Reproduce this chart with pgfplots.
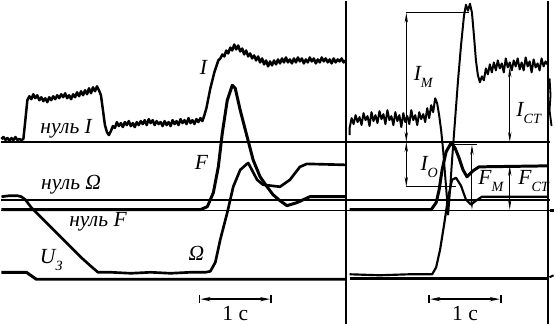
\documentclass[border=0pt]{standalone}
\usepackage{fontspec}
\setmainfont{Liberation Serif}
\usepackage{pgfplots}
\pgfplotsset{compat=1.18}
\usetikzlibrary{arrows.meta}
\newcommand{\lab}{\fontsize{13}{13}\selectfont\itshape}
\newcommand{\sub}[1]{\raisebox{-0.7ex}{\fontsize{8.5}{8.5}\selectfont\itshape #1}}
\begin{document}
\begin{tikzpicture}
\begin{axis}[width=333pt,height=195pt,scale only axis,
  xmin=0,xmax=555,ymin=0,ymax=325,y dir=reverse,hide axis,clip=false,
  every axis plot/.append style={black,no markers,line join=round}]
% null lines
\addplot[line width=1.1pt] coordinates {(0,142) (551,142)};
\addplot[line width=1.1pt] coordinates {(0,200) (551,200)};
\addplot[line width=1.0pt] coordinates {(0,211) (551,211)};
% vertical separators
\addplot[line width=0.9pt] coordinates {(346.5,0) (346.5,325)};
\addplot[line width=0.9pt] coordinates {(549.5,0) (549.5,325)};
% U_3
\addplot[line width=1.8pt] coordinates {(0,273) (25,273) (35,280) (346,280)};
\addplot[line width=1.8pt] coordinates {(350,279) (549,279)};
\addplot[line width=1.2pt] coordinates {(551,278) (555,276)};
% Omega left
\addplot[line width=1.6pt] coordinates {(0,197) (8,196) (16,196) (20,197) (24,200) (30,208) (40,218) (50,228) (60,238) (70,248) (80,258) (90,267) (97,273) (110,273) (130,274) (150,273) (170,274) (190,273) (205,273) (210,272) (215,263) (220,240) (227,213) (233,187) (240,170) (248,163) (257,180) (263,185) (280,187) (290,180) (300,167) (307,164) (346,165)};
% F left
\addplot[line width=1.8pt] coordinates {(0,210) (100,210) (200,210) (207,207) (213,193) (218,167) (222,133) (227,100) (232,85) (235,88) (240,110) (247,137) (253,160) (260,177) (267,187) (273,195) (280,201) (287,206) (297,203) (310,197) (346,197)};
% Omega right
\addplot[line width=1.3pt] coordinates {(350,275) (380,276) (410,275) (433,275) (437,268) (441,250) (445,225) (449,198) (453,180) (457,178) (462,186) (467,200) (472,205) (477,201) (483,197) (549,197)};
% F right
\addplot[line width=1.8pt] coordinates {(350,210) (400,210) (432,210) (437,203) (440,190) (443,170) (447,152) (452,143) (456,148) (460,158) (464,170) (468,177) (474,171) (480,167) (549,166)};
\addplot[line width=1.8pt] coordinates {(551,211) (555,211)};
% I left
\addplot[line width=1.5pt] coordinates {(0,139) (2,137) (4,140) (6,138) (8,141) (10,138) (12,140) (14,137) (16,140) (18,139) (20,140) (22,139)
(24,120) (26,100) (28,96) (30,99) (32,94) (34,98) (36,95) (38,100) (40,97) (42,101) (44,98) (46,102) (48,97) (50,100) (52,96) (54,99) (56,95) (58,98) (60,94) (62,97) (64,93) (66,98) (68,95) (70,99) (72,94) (74,97) (76,92) (78,96) (80,91) (82,95) (84,90) (86,94) (88,88) (90,93) (92,87) (94,91) (96,86) (98,90) (100,95)
(102,110) (104,125) (106,132) (108,135) (110,131) (112,126) (114,128) (116,122) (118,126) (120,123) (122,127) (124,122) (126,125) (128,121) (130,126) (132,123) (134,127) (136,122) (138,125) (140,121) (142,124) (144,120) (146,125) (148,119) (150,123) (152,120) (154,125) (156,121) (158,124) (160,122) (162,126) (164,121) (166,125) (168,122) (170,126) (172,120) (174,124) (176,121) (178,125) (180,119) (182,123) (184,120) (186,124) (188,118) (190,123) (192,120) (194,124) (196,119) (198,122) (200,118) (202,121)
(204,115) (206,108) (208,98) (210,88) (212,80) (214,72) (216,66) (218,60) (220,58) (222,54) (224,56) (226,50) (228,53) (230,47) (232,50) (234,44) (236,49) (238,45) (240,51) (242,48) (244,54) (246,50) (248,56) (250,53) (252,58) (254,55) (256,60) (258,56) (260,62) (262,58) (264,64) (266,60) (268,66) (270,61) (272,65) (274,60) (276,64) (278,59) (280,63) (282,58) (284,62) (286,57) (288,62) (290,59) (292,63) (294,58) (296,62) (298,57) (300,61) (302,58) (304,63) (306,59) (308,62) (310,57) (312,61) (314,58) (316,63) (318,59) (320,62) (322,57) (324,61) (326,58) (328,62) (330,59) (332,63) (334,58) (336,62) (338,59) (340,61) (342,58) (344,62) (346,60)};
% I right
\addplot[line width=1.2pt] coordinates {(350,135) (350,128) (352,118) (354,124) (356,115) (358,122) (360,117) (362,125) (364,113) (366,120) (368,116) (370,126) (372,112) (374,121) (376,115) (378,123) (380,111) (382,119) (384,114) (386,124) (388,110) (390,120) (392,116) (394,125) (396,112) (398,121) (400,115) (402,127) (404,113) (406,122) (408,116) (410,124) (412,110) (414,120) (416,115) (418,125) (420,112) (422,119) (424,114) (426,122) (428,108) (430,118) (432,105) (434,112) (436,98) (438,103) (440,115) (442,130) (444,150) (446,175) (448,200) (449,215) (451,190) (453,160) (456,120) (459,80) (462,45) (465,15) (467,4) (469,10) (471,3) (473,12) (475,35) (477,60) (479,75) (481,82) (483,76) (485,80) (487,68) (489,74) (491,64) (493,72) (495,62) (497,70) (499,60) (501,68) (503,63) (505,72) (507,58) (509,67) (511,62) (513,70) (515,60) (517,66) (519,58) (521,69) (523,62) (525,70) (527,57) (529,66) (531,61) (533,72) (535,59) (537,67) (539,63) (541,70) (543,58) (545,66) (547,61) (549,64)};
\addplot[line width=1.1pt] coordinates {(551,78) (552,95) (551,110) (553,126)};
% annotations
\addplot[line width=0.6pt] coordinates {(407,12) (470,12)};
\addplot[line width=0.6pt,{Stealth[length=6pt,width=2pt]}-{Stealth[length=6pt,width=2pt]}] coordinates {(407,12) (407,142)};
\addplot[line width=0.6pt] coordinates {(407,187) (457,187)};
\addplot[line width=0.6pt,{Stealth[length=6pt,width=2pt]}-{Stealth[length=6pt,width=2pt]}] coordinates {(407,142) (407,187)};
\addplot[line width=0.6pt,{Stealth[length=6pt,width=2pt]}-{Stealth[length=6pt,width=2pt]}] coordinates {(511,67) (511,142)};
\addplot[line width=0.6pt] coordinates {(453,145) (478,145)};
\addplot[line width=0.6pt,{Stealth[length=6pt,width=2pt]}-{Stealth[length=6pt,width=2pt]}] coordinates {(473,145) (473,210)};
\addplot[line width=0.6pt,{Stealth[length=6pt,width=2pt]}-{Stealth[length=6pt,width=2pt]}] coordinates {(511,166) (511,210)};
% scale bars
\addplot[line width=0.9pt,{Stealth[length=6pt,width=2.5pt]}-{Stealth[length=6pt,width=2.5pt]}] coordinates {(200,300) (270,300)};
\addplot[line width=0.9pt] coordinates {(199,296) (199,304)};
\addplot[line width=0.9pt] coordinates {(271,296) (271,304)};
\addplot[line width=0.9pt,{Stealth[length=6pt,width=2.5pt]}-{Stealth[length=6pt,width=2.5pt]}] coordinates {(431,300) (501,300)};
\addplot[line width=0.9pt] coordinates {(430,296) (430,304)};
\addplot[line width=0.9pt] coordinates {(502,296) (502,304)};
% labels
\node at (axis cs:65,129) {\lab нуль I};
\node at (axis cs:70,185) {\lab нуль Ω};
\node at (axis cs:97,222) {\lab нуль F};
\node at (axis cs:50,261) {\lab U\sub{З}};
\node at (axis cs:196,254) {\lab Ω};
\node at (axis cs:201,163) {\lab F};
\node at (axis cs:203,67) {\lab I};
\node at (axis cs:235,314) {\fontsize{13}{13}\selectfont 1 с};
\node at (axis cs:466,314) {\fontsize{13}{13}\selectfont 1 с};
\node at (axis cs:424,77) {\lab I\sub{М}};
\node at (axis cs:430,167) {\lab I\sub{О}};
\node at (axis cs:530,113) {\lab I\sub{СТ}};
\node at (axis cs:492,181) {\lab F\sub{М}};
\node at (axis cs:535,181) {\lab F\sub{СТ}};
\end{axis}
\end{tikzpicture}
\end{document}
